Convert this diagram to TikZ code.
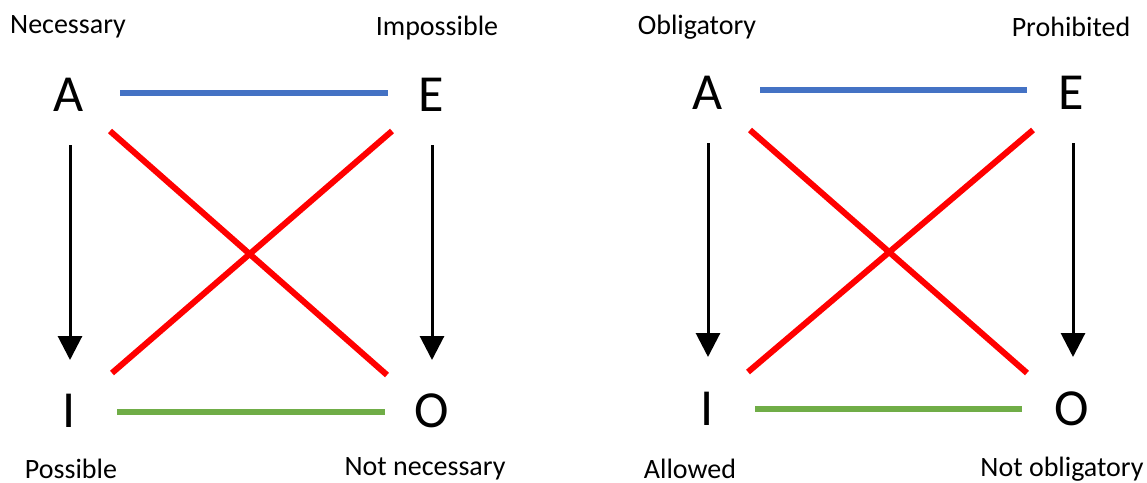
\documentclass[tikz,border=0pt]{standalone}
\usepackage{fontspec}
\setmainfont{Carlito}
\usetikzlibrary{arrows.meta}
\definecolor{cblue}{HTML}{4472C4}
\definecolor{cgreen}{HTML}{70AD47}
\definecolor{cred}{HTML}{FF0000}
\begin{document}
\begin{tikzpicture}[x=1pt,y=-1pt,
  lbl/.style={font=\fontsize{28}{32}\selectfont, inner sep=0pt},
  big/.style={font=\fontsize{52}{56}\selectfont, inner sep=0pt},
  cont/.style={cblue, line width=6pt},
  sub/.style={cgreen, line width=6pt},
  contra/.style={cred, line width=6pt},
  impl/.style={black, line width=3pt, -{Triangle[length=24pt,width=24pt]}}]
\useasboundingbox (0,0) rectangle (1147,482);
% ---- left square
\node[lbl] (nec) at (68,27) {Necessary};
\node[lbl] (imp) at (437,28) {Impossible};
\node[lbl] (pos) at (71,469) {Possible};
\node[lbl] (nn) at (425,469) {Not necessary};
\node[big] (A1) at (69,95) {A};
\node[big] (E1) at (431,95) {E};
\node[big] (I1) at (69,411) {I};
\node[big] (O1) at (432,411) {O};
\coordinate (b1s) at (120,93); \coordinate (b1e) at (388,93);
\coordinate (g1s) at (117,412); \coordinate (g1e) at (385,412);
\coordinate (r1a) at (110,131); \coordinate (r1b) at (387,375);
\coordinate (r1c) at (112,373); \coordinate (r1d) at (392,131);
\coordinate (a1s) at (70,145); \coordinate (a1e) at (70,360);
\coordinate (a2s) at (432,145); \coordinate (a2e) at (432,360);
\draw[cont] (b1s) -- (b1e);
\draw[sub] (g1s) -- (g1e);
\draw[contra] (r1a) -- (r1b);
\draw[contra] (r1c) -- (r1d);
\draw[impl] (a1s) -- (a1e);
\draw[impl] (a2s) -- (a2e);
% ---- right square
\node[lbl] (obl) at (697,27) {Obligatory};
\node[lbl] (pro) at (1071,27) {Prohibited};
\node[lbl] (all) at (690,469) {Allowed};
\node[lbl] (no) at (1062,469) {Not obligatory};
\node[big] (A2) at (708,93) {A};
\node[big] (E2) at (1071,93) {E};
\node[big] (I2) at (707,409) {I};
\node[big] (O2) at (1072,409) {O};
\coordinate (b2s) at (760,90); \coordinate (b2e) at (1027,90);
\coordinate (g2s) at (755,409); \coordinate (g2e) at (1022,409);
\coordinate (r2a) at (750,130); \coordinate (r2b) at (1027,373);
\coordinate (r2c) at (748,372); \coordinate (r2d) at (1033,130);
\coordinate (a3s) at (708,143); \coordinate (a3e) at (708,357);
\coordinate (a4s) at (1073,143); \coordinate (a4e) at (1073,357);
\draw[cont] (b2s) -- (b2e);
\draw[sub] (g2s) -- (g2e);
\draw[contra] (r2a) -- (r2b);
\draw[contra] (r2c) -- (r2d);
\draw[impl] (a3s) -- (a3e);
\draw[impl] (a4s) -- (a4e);
\end{tikzpicture}
\end{document}
